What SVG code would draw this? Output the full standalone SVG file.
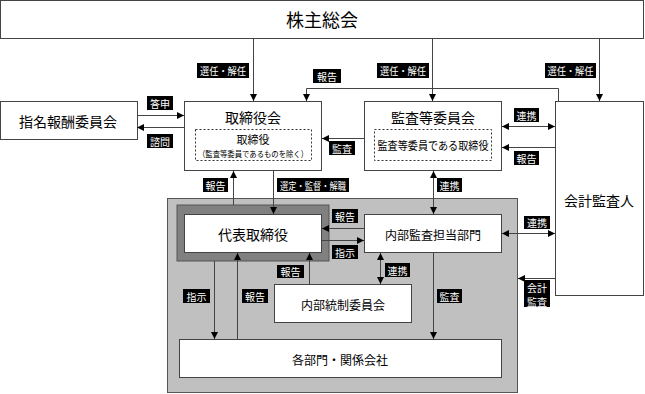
<svg xmlns="http://www.w3.org/2000/svg" width="645" height="394" viewBox="0 0 645 394">
<defs>
<marker id="ah" viewBox="0 0 8 8" refX="8" refY="4" markerWidth="7" markerHeight="7" markerUnits="userSpaceOnUse" orient="auto-start-reverse">
<path d="M0,0 L8,4 L0,8 z" fill="#000"/>
</marker>
<style>
.box{fill:#fff;stroke:#444;stroke-width:1}
.dash{fill:none;stroke:#333;stroke-width:1;stroke-dasharray:2,2}
.t{font-family:"Noto Sans CJK JP","Noto Sans CJK SC",sans-serif;fill:#000;text-anchor:middle;dominant-baseline:central}
.lb{fill:#000}
.lt{font-family:"Noto Sans CJK JP","Noto Sans CJK SC",sans-serif;fill:#fff;font-size:10px;text-anchor:middle;dominant-baseline:central}
.ln{fill:none;stroke:#444;stroke-width:1}
.a{marker-end:url(#ah)}
.b{marker-start:url(#ah);marker-end:url(#ah)}
</style>
</defs>
<rect x="167.5" y="198.5" width="350" height="194" fill="#c0c0c0" stroke="#555"/>
<g id="sokai"><rect class="box" x="0.5" y="0.5" width="643" height="38"/><text class="t" x="322" y="19" font-size="18">株主総会</text></g>
<g id="shimei"><rect class="box" x="0.5" y="101.5" width="137" height="38"/><text class="t" x="68" y="121" font-size="14">指名報酬委員会</text></g>
<g id="torishimariyakukai"><rect class="box" x="184.5" y="101.5" width="137" height="69"/><text class="t" x="253" y="117" font-size="14">取締役会</text><rect class="dash" x="195.5" y="129.5" width="116" height="31"/><text class="t" x="253" y="139" font-size="11">取締役</text><text class="t" x="253" y="152.5" font-size="8.5" textLength="110" lengthAdjust="spacingAndGlyphs">（監査等委員であるものを除く）</text></g>
<g id="kansa"><rect class="box" x="364.5" y="101.5" width="137" height="69"/><text class="t" x="433" y="117" font-size="14">監査等委員会</text><rect class="dash" x="374.5" y="129.5" width="117" height="31"/><text class="t" x="433" y="145" font-size="11" textLength="111" lengthAdjust="spacingAndGlyphs">監査等委員である取締役</text></g>
<g id="kaikei"><rect class="box" x="555.5" y="101.5" width="88" height="194"/><text class="t" x="599" y="200" font-size="14">会計監査人</text></g>
<g id="daihyo"><rect x="177" y="205" width="152" height="56" fill="#808080" stroke="#555"/><rect class="box" x="184.5" y="214.5" width="137" height="38"/><text class="t" x="253" y="234" font-size="14">代表取締役</text></g>
<g id="naibu"><rect class="box" x="364.5" y="214.5" width="137" height="38"/><text class="t" x="433" y="234" font-size="12">内部監査担当部門</text></g>
<g id="naibutosei"><rect class="box" x="274.5" y="284.5" width="137" height="38"/><text class="t" x="343" y="304" font-size="12">内部統制委員会</text></g>
<g id="kakubumon"><rect class="box" x="179.5" y="339.5" width="322" height="38"/><text class="t" x="340" y="359" font-size="12">各部門・関係会社</text></g>
<g id="connectors">
<line class="ln a" x1="253.5" y1="39" x2="253.5" y2="101"/>
<line class="ln a" x1="432.5" y1="39" x2="432.5" y2="101"/>
<line class="ln a" x1="599.5" y1="39" x2="599.5" y2="101"/>
<polyline class="ln a" points="558.5,101 558.5,88.5 306.5,88.5 306.5,101"/>
<line class="ln a" x1="137" y1="115.5" x2="184" y2="115.5"/>
<line class="ln a" x1="184" y1="127.5" x2="137" y2="127.5"/>
<line class="ln a" x1="364" y1="138.5" x2="322" y2="138.5"/>
<line class="ln b" x1="502" y1="126.5" x2="555" y2="126.5"/>
<line class="ln a" x1="555" y1="147.5" x2="502" y2="147.5"/>
<line class="ln a" x1="233.5" y1="205" x2="233.5" y2="171"/>
<line class="ln a" x1="273.5" y1="171" x2="273.5" y2="214"/>
<line class="ln b" x1="433.5" y1="171" x2="433.5" y2="214"/>
<line class="ln a" x1="364" y1="228.5" x2="322" y2="228.5"/>
<line class="ln a" x1="322" y1="240.5" x2="364" y2="240.5"/>
<line class="ln b" x1="380.5" y1="253" x2="380.5" y2="284"/>
<line class="ln a" x1="309.5" y1="284" x2="309.5" y2="253"/>
<line class="ln a" x1="214.5" y1="261" x2="214.5" y2="339"/>
<line class="ln a" x1="237.5" y1="339" x2="237.5" y2="253"/>
<line class="ln a" x1="433.5" y1="253" x2="433.5" y2="339"/>
<line class="ln b" x1="502" y1="233.5" x2="555" y2="233.5"/>
<line class="ln a" x1="555" y1="278.5" x2="518" y2="278.5"/>
</g>
<g id="labels">
<rect class="lb" x="197" y="63" width="52" height="15"/><text class="lt" x="223" y="70.5" textLength="46" lengthAdjust="spacingAndGlyphs">選任・解任</text>
<rect class="lb" x="377" y="63" width="52" height="15"/><text class="lt" x="403" y="70.5" textLength="46" lengthAdjust="spacingAndGlyphs">選任・解任</text>
<rect class="lb" x="545" y="63" width="51" height="15"/><text class="lt" x="570.5" y="70.5" textLength="46" lengthAdjust="spacingAndGlyphs">選任・解任</text>
<rect class="lb" x="313" y="69" width="28" height="14"/><text class="lt" x="327" y="76">報告</text>
<rect class="lb" x="147" y="96" width="26" height="14"/><text class="lt" x="160" y="103">答申</text>
<rect class="lb" x="147" y="134" width="26" height="14"/><text class="lt" x="160" y="141">諮問</text>
<rect class="lb" x="329" y="141" width="26" height="14"/><text class="lt" x="342" y="148">監査</text>
<rect class="lb" x="514" y="108" width="25" height="14"/><text class="lt" x="526.5" y="115">連携</text>
<rect class="lb" x="514" y="151" width="25" height="14"/><text class="lt" x="526.5" y="158">報告</text>
<rect class="lb" x="203" y="178" width="25" height="14"/><text class="lt" x="215.5" y="185">報告</text>
<rect class="lb" x="277" y="178" width="72" height="14"/><text class="lt" x="313" y="185" textLength="66" lengthAdjust="spacingAndGlyphs">選定・監督・解職</text>
<rect class="lb" x="437" y="178" width="25" height="14"/><text class="lt" x="449.5" y="185">連携</text>
<rect class="lb" x="332" y="209" width="26" height="14"/><text class="lt" x="345" y="216">報告</text>
<rect class="lb" x="332" y="245" width="26" height="14"/><text class="lt" x="345" y="252">指示</text>
<rect class="lb" x="524" y="216" width="26" height="13"/><text class="lt" x="537" y="222.5">連携</text>
<rect class="lb" x="385" y="263" width="25" height="14"/><text class="lt" x="397.5" y="270">連携</text>
<rect class="lb" x="277" y="265" width="27" height="13"/><text class="lt" x="290.5" y="271.5">報告</text>
<rect class="lb" x="183" y="289" width="27" height="14"/><text class="lt" x="196.5" y="296">指示</text>
<rect class="lb" x="242" y="289" width="26" height="14"/><text class="lt" x="255" y="296">報告</text>
<rect class="lb" x="437" y="289" width="25" height="14"/><text class="lt" x="449.5" y="296">監査</text>
<rect class="lb" x="524" y="280" width="26" height="27"/><text class="lt" font-size="8.5"><tspan x="537" y="286.5">会計</tspan><tspan x="537" y="300.5">監査</tspan></text>
</g>
</svg>
